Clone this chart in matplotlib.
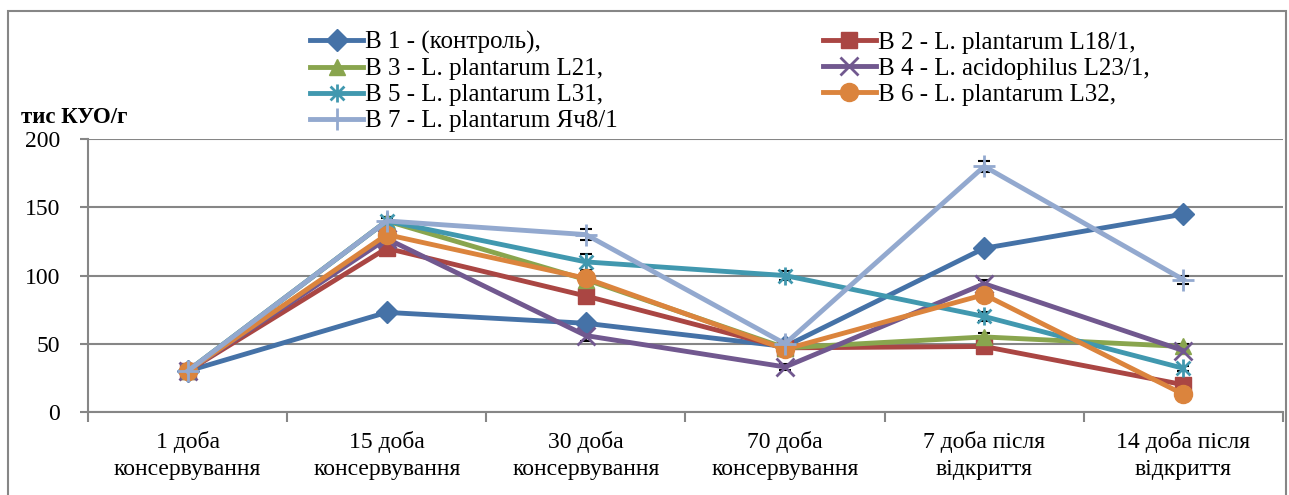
import matplotlib
matplotlib.use('Agg')
import matplotlib.pyplot as plt
from matplotlib.patches import Rectangle
from matplotlib.path import Path

plt.rcParams['font.family'] = ['Liberation Serif', 'DejaVu Serif']

categories = ["1 доба\nконсервування", "15 доба\nконсервування", "30 доба\nконсервування",
              "70 доба\nконсервування", "7 доба після\nвідкриття", "14 доба після\nвідкриття"]

names = ["В 1 - (контроль),", "В 2 - L. plantarum L18/1,", "В 3 - L. plantarum L21,",
         "В 4 - L. acidophilus L23/1,", "В 5 - L. plantarum L31,", "В 6 - L. plantarum L32,",
         "В 7 - L. plantarum Яч8/1"]

b1 = [30, 73, 65, 48, 120, 145]
b2 = [30, 120, 85, 47, 48, 20]
b3 = [30, 140, 97, 47, 55, 48]
b4 = [30, 127, 56, 33, 94, 45]
b5 = [30, 140, 110, 100, 70, 32]
b6 = [30, 130, 98, 46, 86, 13]
b7 = [30, 140, 130, 50, 180, 97]

e1 = [1, 2, 2, 2, 3, 2]
e2 = [1, 2, 3, 2, 2, 2]
e3 = [1, 2, 3, 2, 3, 2]
e4 = [1, 2, 4, 2, 3, 2]
e5 = [1, 3, 6, 3, 3, 2]
e6 = [1, 2, 3, 2, 2, 2]
e7 = [1, 3, 4, 2, 4, 3]

# excel-like asterisk: x plus vertical bar
asterisk = Path([(-1, -1), (1, 1), (-1, 1), (1, -1), (0, -1.3), (0, 1.3)],
                [Path.MOVETO, Path.LINETO, Path.MOVETO, Path.LINETO, Path.MOVETO, Path.LINETO])

series = [b1, b2, b3, b4, b5, b6, b7]
errors = [e1, e2, e3, e4, e5, e6, e7]
colors = ["#4572A7", "#AA4643", "#89A54E", "#71588F", "#4198AF", "#DB843D", "#93A9CF"]
markers = ["D", "s", "^", "x", asterisk, "o", "+"]
msizes = [11, 12, 12, 13, 13, 13, 16]

fig = plt.figure(figsize=(12.89, 4.95), dpi=100)
ax = fig.add_axes([0.0683, 0.1677, 0.9270, 0.5513])

x = list(range(len(categories)))
handles = []
for vals, errs, c, m, ms, n in zip(series, errors, colors, markers, msizes, names):
    ax.errorbar(x, vals, yerr=errs, fmt='none', ecolor='black', elinewidth=1.2,
                capsize=4, capthick=1.5, zorder=2)
    lined = isinstance(m, Path) or m in ("x", "+")
    h, = ax.plot(x, vals, color=c, lw=3.5, marker=m, ms=ms, mew=2 if lined else 1,
                 mec=c, mfc=c, label=n, zorder=3)
    handles.append(h)

ax.set_xlim(-0.5, len(categories) - 0.5)
ax.set_ylim(0, 200)
ax.set_yticks([0, 50, 100, 150, 200])
ax.set_xticks([i - 0.5 for i in range(len(categories) + 1)])
ax.set_xticklabels([])
ax.set_xticks(x, minor=True)
ax.set_xticklabels(categories, minor=True, fontsize=17, linespacing=1.35)
ax.tick_params(axis='x', which='minor', length=0, pad=14)
ax.tick_params(axis='x', which='major', length=7, color='#868686', width=1.5)
ax.tick_params(axis='y', length=6, color='#868686', width=1.5, labelsize=17, pad=14)
ax.yaxis.grid(True, color='#868686', lw=1.5)
ax.set_axisbelow(True)
for s in ['top', 'right']:
    ax.spines[s].set_visible(False)
for s in ['left', 'bottom']:
    ax.spines[s].set_color('#868686')
    ax.spines[s].set_linewidth(1.5)

fig.text(0.016, 0.752, "тис КУО/г", fontsize=16.5, fontweight='bold')

order = [0, 2, 4, 6, 1, 3, 5]
fig.legend([handles[i] for i in order], [names[i] for i in order], ncol=2,
           loc='upper left', bbox_to_anchor=(0.231, 0.962), frameon=False,
           fontsize=18, handlelength=2.1, handletextpad=0.1, labelspacing=0.14,
           columnspacing=8.2, borderpad=0)

fig.patches.append(Rectangle((0.006, -0.02), 0.992, 0.998, transform=fig.transFigure,
                             fill=False, edgecolor='#868686', lw=1.5))

fig.savefig("out.png", dpi=100)
